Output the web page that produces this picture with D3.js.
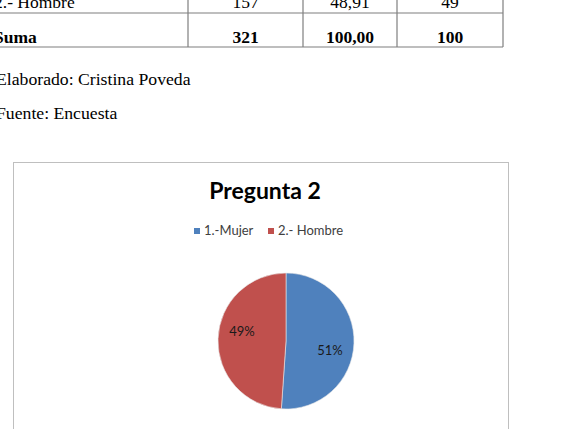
<!DOCTYPE html>
<html>
<head>
<meta charset="utf-8">
<script src="https://cdn.jsdelivr.net/npm/d3@7"></script>
<style>
  body { margin: 0; background: #fff; }
  svg { display: block; }
</style>
</head>
<body>
<script>
// Data
var categories = ['1.-Mujer', '2.- Hombre'];
var counts = [164, 157];
var colors = ['#4F81BD', '#C0504D'];

// visible rows of the table above the chart
var tableRows = [
  ['2.- Hombre', '157', '48,91', '49'],
  ['Suma', '321', '100,00', '100']
];
var notes = ['Elaborado: Cristina Poveda', 'Fuente: Encuesta'];

var svg = d3.select('body')
  .append('svg')
  .attr('width', 564)
  .attr('height', 429);

svg.append('rect')
  .attr('width', 564)
  .attr('height', 429)
  .style('fill', '#fff');

// Table (cut at the top of the page)
var colEdges = [-2, 188, 303, 397, 503];
var rowBottoms = [13, 47];

var table = svg.append('g').attr('class', 'table');

table.selectAll('.hline')
  .data(rowBottoms)
  .enter()
  .append('line')
  .attr('x1', colEdges[0])
  .attr('x2', colEdges[colEdges.length - 1])
  .attr('y1', function(d){ return d; })
  .attr('y2', function(d){ return d; })
  .style('stroke', '#7f7f7f')
  .style('stroke-width', 1.2);

table.selectAll('.vline')
  .data(colEdges.slice(1))
  .enter()
  .append('line')
  .attr('x1', function(d){ return d; })
  .attr('x2', function(d){ return d; })
  .attr('y1', 0)
  .attr('y2', rowBottoms[1])
  .style('stroke', '#7f7f7f')
  .style('stroke-width', 1.2);

tableRows.forEach(function(row, i){
  row.forEach(function(cell, j){
    table.append('text')
      .attr('x', j === 0 ? -6 : (colEdges[j] + colEdges[j + 1]) / 2)
      .attr('y', i === 0 ? 8 : 43)
      .attr('text-anchor', j === 0 ? 'start' : 'middle')
      .style('font-family', '"Liberation Serif", "Times New Roman", serif')
      .style('font-size', '17.5px')
      .style('font-weight', i === 1 ? 'bold' : 'normal')
      .style('fill', '#000')
      .text(cell);
  });
});

// Notes
svg.selectAll('.note')
  .data(notes)
  .enter()
  .append('text')
  .attr('class', 'note')
  .attr('x', -4)
  .attr('y', function(d, i){ return 85 + i * 34; })
  .style('font-family', '"Liberation Serif", "Times New Roman", serif')
  .style('font-size', '17.7px')
  .style('fill', '#000')
  .text(function(d){ return d; });

// Chart frame
svg.append('rect')
  .attr('x', 13.5)
  .attr('y', 162.5)
  .attr('width', 495)
  .attr('height', 280)
  .style('fill', '#fff')
  .style('stroke', '#bfbfbf')
  .style('stroke-width', 1);

var font = 'Lato, "Open Sans", sans-serif';

svg.append('text')
  .attr('x', 265)
  .attr('y', 199)
  .attr('text-anchor', 'middle')
  .style('font-family', font)
  .style('font-size', '23px')
  .style('font-weight', 'bold')
  .style('fill', '#000')
  .text('Pregunta 2');

// Legend
var legendX = [194, 268];
var legend = svg.selectAll('.legend')
  .data(categories)
  .enter()
  .append('g')
  .attr('class', 'legend')
  .attr('transform', function(d, i){ return 'translate(' + legendX[i] + ',228)'; });

legend.append('rect')
  .attr('width', 6)
  .attr('height', 6)
  .style('fill', function(d, i){ return colors[i]; });

legend.append('text')
  .attr('x', 10)
  .attr('y', 6.5)
  .style('font-family', font)
  .style('font-size', '13px')
  .style('fill', '#404040')
  .text(function(d){ return d; });

// Pie
var cx = 286, cy = 341, radius = 68;
var total = d3.sum(counts);

var pie = d3.pie().sort(null);
var arcs = pie(counts);

var arc = d3.arc().innerRadius(0).outerRadius(radius);

var pieG = svg.append('g')
  .attr('transform', 'translate(' + cx + ',' + cy + ')');

pieG.selectAll('.slice')
  .data(arcs)
  .enter()
  .append('path')
  .attr('class', 'slice')
  .attr('d', arc)
  .style('fill', function(d, i){ return colors[i]; })
  .style('stroke', '#e8e8e8')
  .style('stroke-width', 0.6);

var labelR = 45;
pieG.selectAll('.pct')
  .data(arcs)
  .enter()
  .append('text')
  .attr('class', 'pct')
  .attr('x', function(d){
    var a = (d.startAngle + d.endAngle) / 2 + 0.18;
    return labelR * Math.sin(a);
  })
  .attr('y', function(d){
    var a = (d.startAngle + d.endAngle) / 2 + 0.18;
    return -labelR * Math.cos(a) + 4.5;
  })
  .attr('text-anchor', 'middle')
  .style('font-family', font)
  .style('font-size', '13px')
  .style('fill', '#1a1a1a')
  .text(function(d){ return Math.round(d.value / total * 100) + '%'; });
</script>
</body>
</html>
